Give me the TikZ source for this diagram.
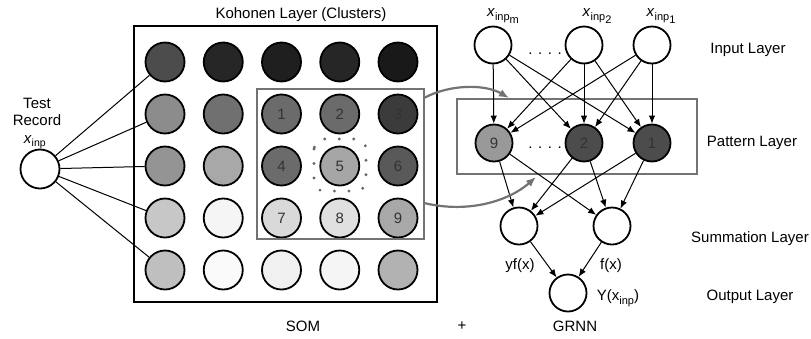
\documentclass[tikz,border=0pt]{standalone}
\usepackage{fontspec}
\setmainfont{Liberation Sans}
\usepackage{tikz}
\usetikzlibrary{arrows.meta}

\newcommand{\xinp}[1]{\textit{x}\raisebox{-0.45ex}{\fontsize{11}{12}\selectfont inp\raisebox{-0.45ex}{#1}}}

\begin{document}
\begin{tikzpicture}[x = 1pt, y = -1pt, font = \fontsize{15}{17}\selectfont,
    cell/.style = {circle, draw, line width = 1.8pt, minimum size = 39pt, inner sep = 0pt, text = black!80},
    unit/.style = {circle, draw, line width = 1.8pt, minimum size = 37pt, inner sep = 0pt, text = black!80},
    link/.style = {line width = 1pt},
    arrow/.style = {-{Latex[length = 8pt, width = 6.5pt]}, line width = 1pt},
    graybox/.style = {draw = black!55, line width = 2.6pt, inner sep = 0pt},
    jump/.style = {-{Latex[length = 10pt, width = 8pt]}, draw = black!55, line width = 2.2pt}]
    \useasboundingbox (0,0) rectangle (811,338);

    % SOM part
    \node[draw, line width = 2.2pt, minimum width = 303pt, minimum height = 276pt, inner sep = 0pt] (koh) at (285.5,164) {};
    \node (kohlab) at (301,15) {Kohonen Layer (Clusters)};

    \foreach \r/\c/\s in {1/1/70, 1/2/85, 1/3/88, 1/4/85, 1/5/90,
                         2/1/45, 2/2/56,
                         3/1/42, 3/2/34,
                         4/1/22, 4/2/4,
                         5/1/25, 5/2/2, 5/3/6, 5/4/4, 5/5/30}
        \node[cell, fill = black!\s] (k\r\c) at ({165+58.25*(\c-1)}, {62+52*(\r-1)}) {};
    \foreach \r/\c/\s/\n in {2/3/58/1, 2/4/58/2, 2/5/77/3,
                            3/3/58/4, 3/4/35/5, 3/5/65/6,
                            4/3/15/7, 4/4/12/8, 4/5/34/9}
        \node[cell, fill = black!\s] (k\r\c) at ({165+58.25*(\c-1)}, {62+52*(\r-1)}) {\n};

    \node[graybox, minimum width = 167pt, minimum height = 150pt] (sel) at (340.5,164) {};
    \draw[black!60, line width = 3.2pt, line cap = round, dash pattern = on 0pt off 14.5pt, rounded corners = 10pt]
        (314,139) rectangle (366,191);

    \node[circle, draw, line width = 1.8pt, minimum size = 39pt] (test) at (40,169) {};
    \node[align = center] (testlab) at (37,112) {Test\\Record};
    \node (testx) at (35,142) {\textit{x}\textsubscript{inp}};
    \foreach \r in {1,...,5}
        \draw[link] (test) -- (k\r1);

    % GRNN part
    \node[unit] (in-m) at (493,45) {};
    \node[unit] (in-2) at (584,45) {};
    \node[unit] (in-1) at (652,45) {};
    \node (xm) at (503,16) {\xinp{m}};
    \node (x2) at (597,16) {\xinp{2}};
    \node (x1) at (661,16) {\xinp{1}};
    \node[anchor = base] (dots1) at (545,54) {. . . .};

    \node[graybox, minimum width = 240pt, minimum height = 75pt] (pat) at (577,136.5) {};
    \node[unit, fill = black!40] (pat-9) at (494,143) {9};
    \node[unit, fill = black!70] (pat-2) at (584,143) {2};
    \node[unit, fill = black!70] (pat-1) at (652,143) {1};
    \node[anchor = base] (dots2) at (545,148) {. . . .};

    \node[unit] (sum-a) at (519,226) {};
    \node[unit] (sum-b) at (612,226) {};
    \node[unit] (out) at (568,293) {};

    \foreach \i in {m,2,1}
        \foreach \p in {9,2,1}
            \draw[arrow] (in-\i) -- (pat-\p);
    \foreach \p in {9,2,1}
        \foreach \s in {a,b}
            \draw[arrow] (pat-\p) -- (sum-\s);
    \draw[arrow] (sum-a) -- (out);
    \draw[arrow] (sum-b) -- (out);

    \node (yfx) at (520,266) {yf(x)};
    \node (fx) at (611,266) {f(x)};
    \node (yout) at (618,298) {Y(x\raisebox{-0.45ex}{\fontsize{11}{12}\selectfont inp})};

    % from the selected clusters to the pattern layer
    \coordinate (s1) at (424,98);
    \coordinate (p1) at (509,98);
    \coordinate (s2) at (424,203);
    \coordinate (p2) at (536,177);
    \draw[jump] (s1) .. controls (450,84) and (485,84) .. (p1);
    \draw[jump] (s2) .. controls (470,214) and (510,200) .. (p2);

    % layer names
    \node (lin) at (748,50) {Input Layer};
    \node (lpat) at (752,143) {Pattern Layer};
    \node (lsum) at (750,239) {Summation Layer};
    \node (lout) at (750,297) {Output Layer};

    \node (som) at (303,326) {SOM};
    \node (plus) at (462,326) {+};
    \node (grnn) at (575,326) {GRNN};
\end{tikzpicture}
\end{document}
